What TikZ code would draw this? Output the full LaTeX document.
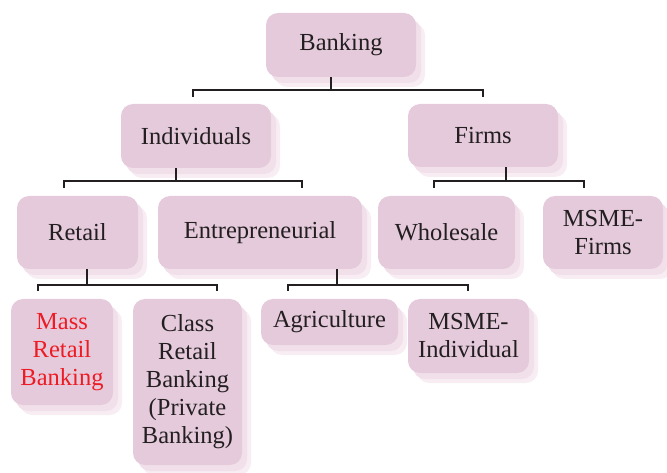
\documentclass[tikz,border=0pt]{standalone}
\usepackage{fontspec}
\setmainfont{Liberation Serif}
\usepackage{tikz}
\usetikzlibrary{calc,positioning,shapes,shadows}
\definecolor{boxpink}{RGB}{229,202,220}
\definecolor{shadpink}{RGB}{241,224,234}
\definecolor{shadpale}{RGB}{247,237,243}
\definecolor{txtgrey}{RGB}{35,31,32}
\definecolor{massred}{RGB}{237,28,36}
\tikzstyle{every node}=[line width=1pt]

\begin{document}
\begin{tikzpicture}[x=1pt,y=-1pt]
          \tikzstyle{bnode} = [fill=boxpink, rounded corners=12pt, inner sep=2pt, align=center,
            text=txtgrey, font=\fontsize{24.5}{28}\selectfont,
            general shadow={fill=shadpale, shadow xshift=9pt, shadow yshift=-10pt},
            general shadow={fill=shadpink, shadow xshift=5pt, shadow yshift=-6pt}]
          \tikzstyle{conn} = [line width=2pt, draw=txtgrey]
          \useasboundingbox (0,0) rectangle (667,473);

          \node[bnode, minimum width=150, minimum height=64] (bank) at (341,45) {Banking};

          \node[bnode, minimum width=150, minimum height=64] (indv) at (196,136) {Individuals};
          \node[bnode, minimum width=150, minimum height=63] (firm) at (483,135.5) {Firms};

          \node[bnode, minimum width=121, minimum height=73] (retl) at (77.5,232.5) {Retail};
          \node[bnode, minimum width=204, minimum height=73] (entr) at (260,232.5) {Entrepreneurial};
          \node[bnode, minimum width=137, minimum height=73] (whol) at (446.5,232.5) {Wholesale};
          \node[bnode, minimum width=120, minimum height=73] (msmf) at (603,232.5) {MSME-\\Firms};

          \node[bnode, minimum width=102, minimum height=106, text=massred] (mass) at (62,352) {Mass\\Retail\\Banking};
          \node[bnode, minimum width=109, minimum height=166] (clas) at (187.5,382) {Class\\Retail\\Banking\\(Private\\Banking)};
          \node[bnode, minimum width=137, minimum height=46] (agri) at (329.5,322) {Agriculture};
          \node[bnode, minimum width=121, minimum height=74] (msmi) at (468.5,336) {MSME-\\Individual};

          % bars between the levels
          \coordinate (bankbar) at (331,90);
          \coordinate (bankl) at (193,97);
          \coordinate (bankr) at (483,97);
          \draw[conn] (bank.south -| bankbar) -- (bankbar);
          \draw[conn] (bankl) |- (bankbar) -| (bankr);

          \coordinate (indvbar) at (176,181);
          \coordinate (indvl) at (64,188);
          \coordinate (indvr) at (302,188);
          \draw[conn] (indv.south -| indvbar) -- (indvbar);
          \draw[conn] (indvl) |- (indvbar) -| (indvr);

          \coordinate (firmbar) at (506,181);
          \coordinate (firml) at (434,188);
          \coordinate (firmr) at (584,188);
          \draw[conn] (firm.south -| firmbar) -- (firmbar);
          \draw[conn] (firml) |- (firmbar) -| (firmr);

          \coordinate (retlbar) at (87,285);
          \coordinate (retll) at (38,291);
          \coordinate (retlr) at (217,291);
          \draw[conn] (retl.south -| retlbar) -- (retlbar);
          \draw[conn] (retll) |- (retlbar) -| (retlr);

          \coordinate (entrbar) at (337,285);
          \coordinate (entrl) at (288,291);
          \coordinate (entrr) at (468,291);
          \draw[conn] (entr.south -| entrbar) -- (entrbar);
          \draw[conn] (entrl) |- (entrbar) -| (entrr);
        \end{tikzpicture}
\end{document}
